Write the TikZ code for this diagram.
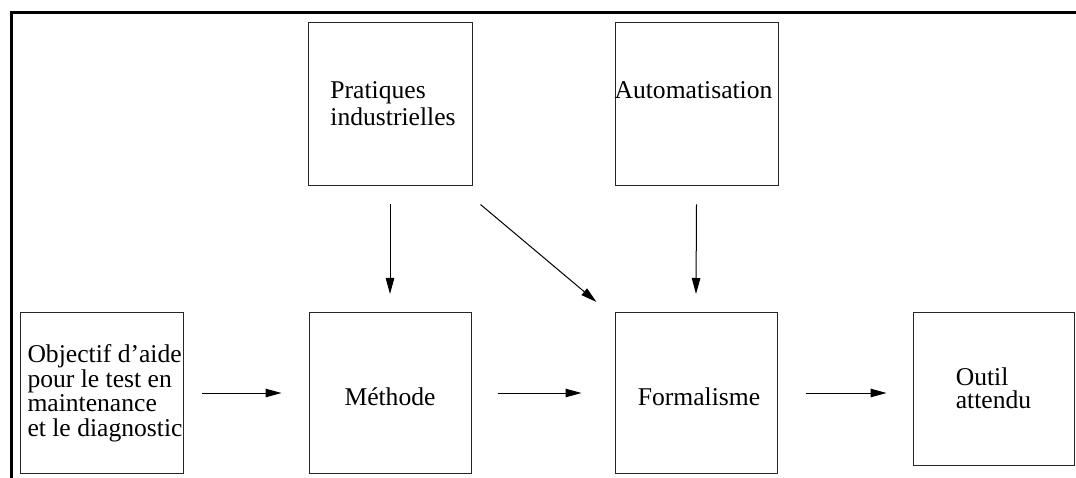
\documentclass[tikz,border=0pt]{standalone}
\usepackage{fontspec}
\setmainfont{Liberation Serif}
\usetikzlibrary{arrows.meta}
\begin{document}
\begin{tikzpicture}[x=1pt,y=-1pt,
  box/.style={draw=black!85,line width=1pt,minimum width=162pt,minimum height=161pt,inner sep=0pt,
    font=\fontsize{25.6}{24.5}\selectfont,align=left},
  conn/.style={line width=1pt,-{Triangle[length=16pt,width=8.5pt]}},
  frame/.style={line width=3pt}]
\useasboundingbox (0,0) rectangle (1076,478);
\coordinate (ftl) at (11,13);
\coordinate (ftr) at (1077,13);
\coordinate (fbl) at (11,479);
\draw[frame] (ftr) -- (ftl) -- (fbl);
\node[box,minimum width=163pt] (obj) at (102,393) {\hspace*{6pt}Objectif d'aide\\\hspace*{6pt}pour le test en\\\hspace*{6pt}maintenance\\\hspace*{6pt}et le diagnostic};
\node[box] (meth) at (390,393) {\raisebox{-4pt}[\height][\depth]{Méthode}};
\node[box] (form) at (696,393) {\raisebox{-4pt}[\height][\depth]{\hspace*{6pt}Formalisme}};
\node[box,minimum width=161pt,minimum height=153pt,font=\fontsize{25.6}{23}\selectfont] (outil) at (993.5,388.5) {Outil\\attendu};
\node[box,minimum width=164pt,minimum height=163pt] (prat) at (390,104.5) {\raisebox{2pt}[\height][\depth]{\hspace*{6pt}Pratiques}\\\hspace*{6pt}industrielles};
\node[box,minimum width=163pt,minimum height=163pt] (auto) at (696.5,104.5) {\raisebox{14pt}[\height][\depth]{\hspace*{-6pt}Automatisation}};
\draw[conn] ([xshift=18pt]obj.east) -- ([xshift=-27pt]meth.west);
\draw[conn] ([xshift=26pt]meth.east) -- ([xshift=-33pt]form.west);
\draw[conn] ([xshift=28pt]form.east) -- ([xshift=-26pt]outil.west |- form.east);
\draw[conn] ([yshift=-18pt]prat.south) -- ([yshift=18pt]meth.north);
\draw[conn] ([yshift=-18pt]auto.south) -- ([yshift=18pt]form.north);
\draw[conn] ([xshift=8pt,yshift=-18pt]prat.south east) -- ([xshift=-18pt,yshift=10pt]form.north west);
\end{tikzpicture}
\end{document}
